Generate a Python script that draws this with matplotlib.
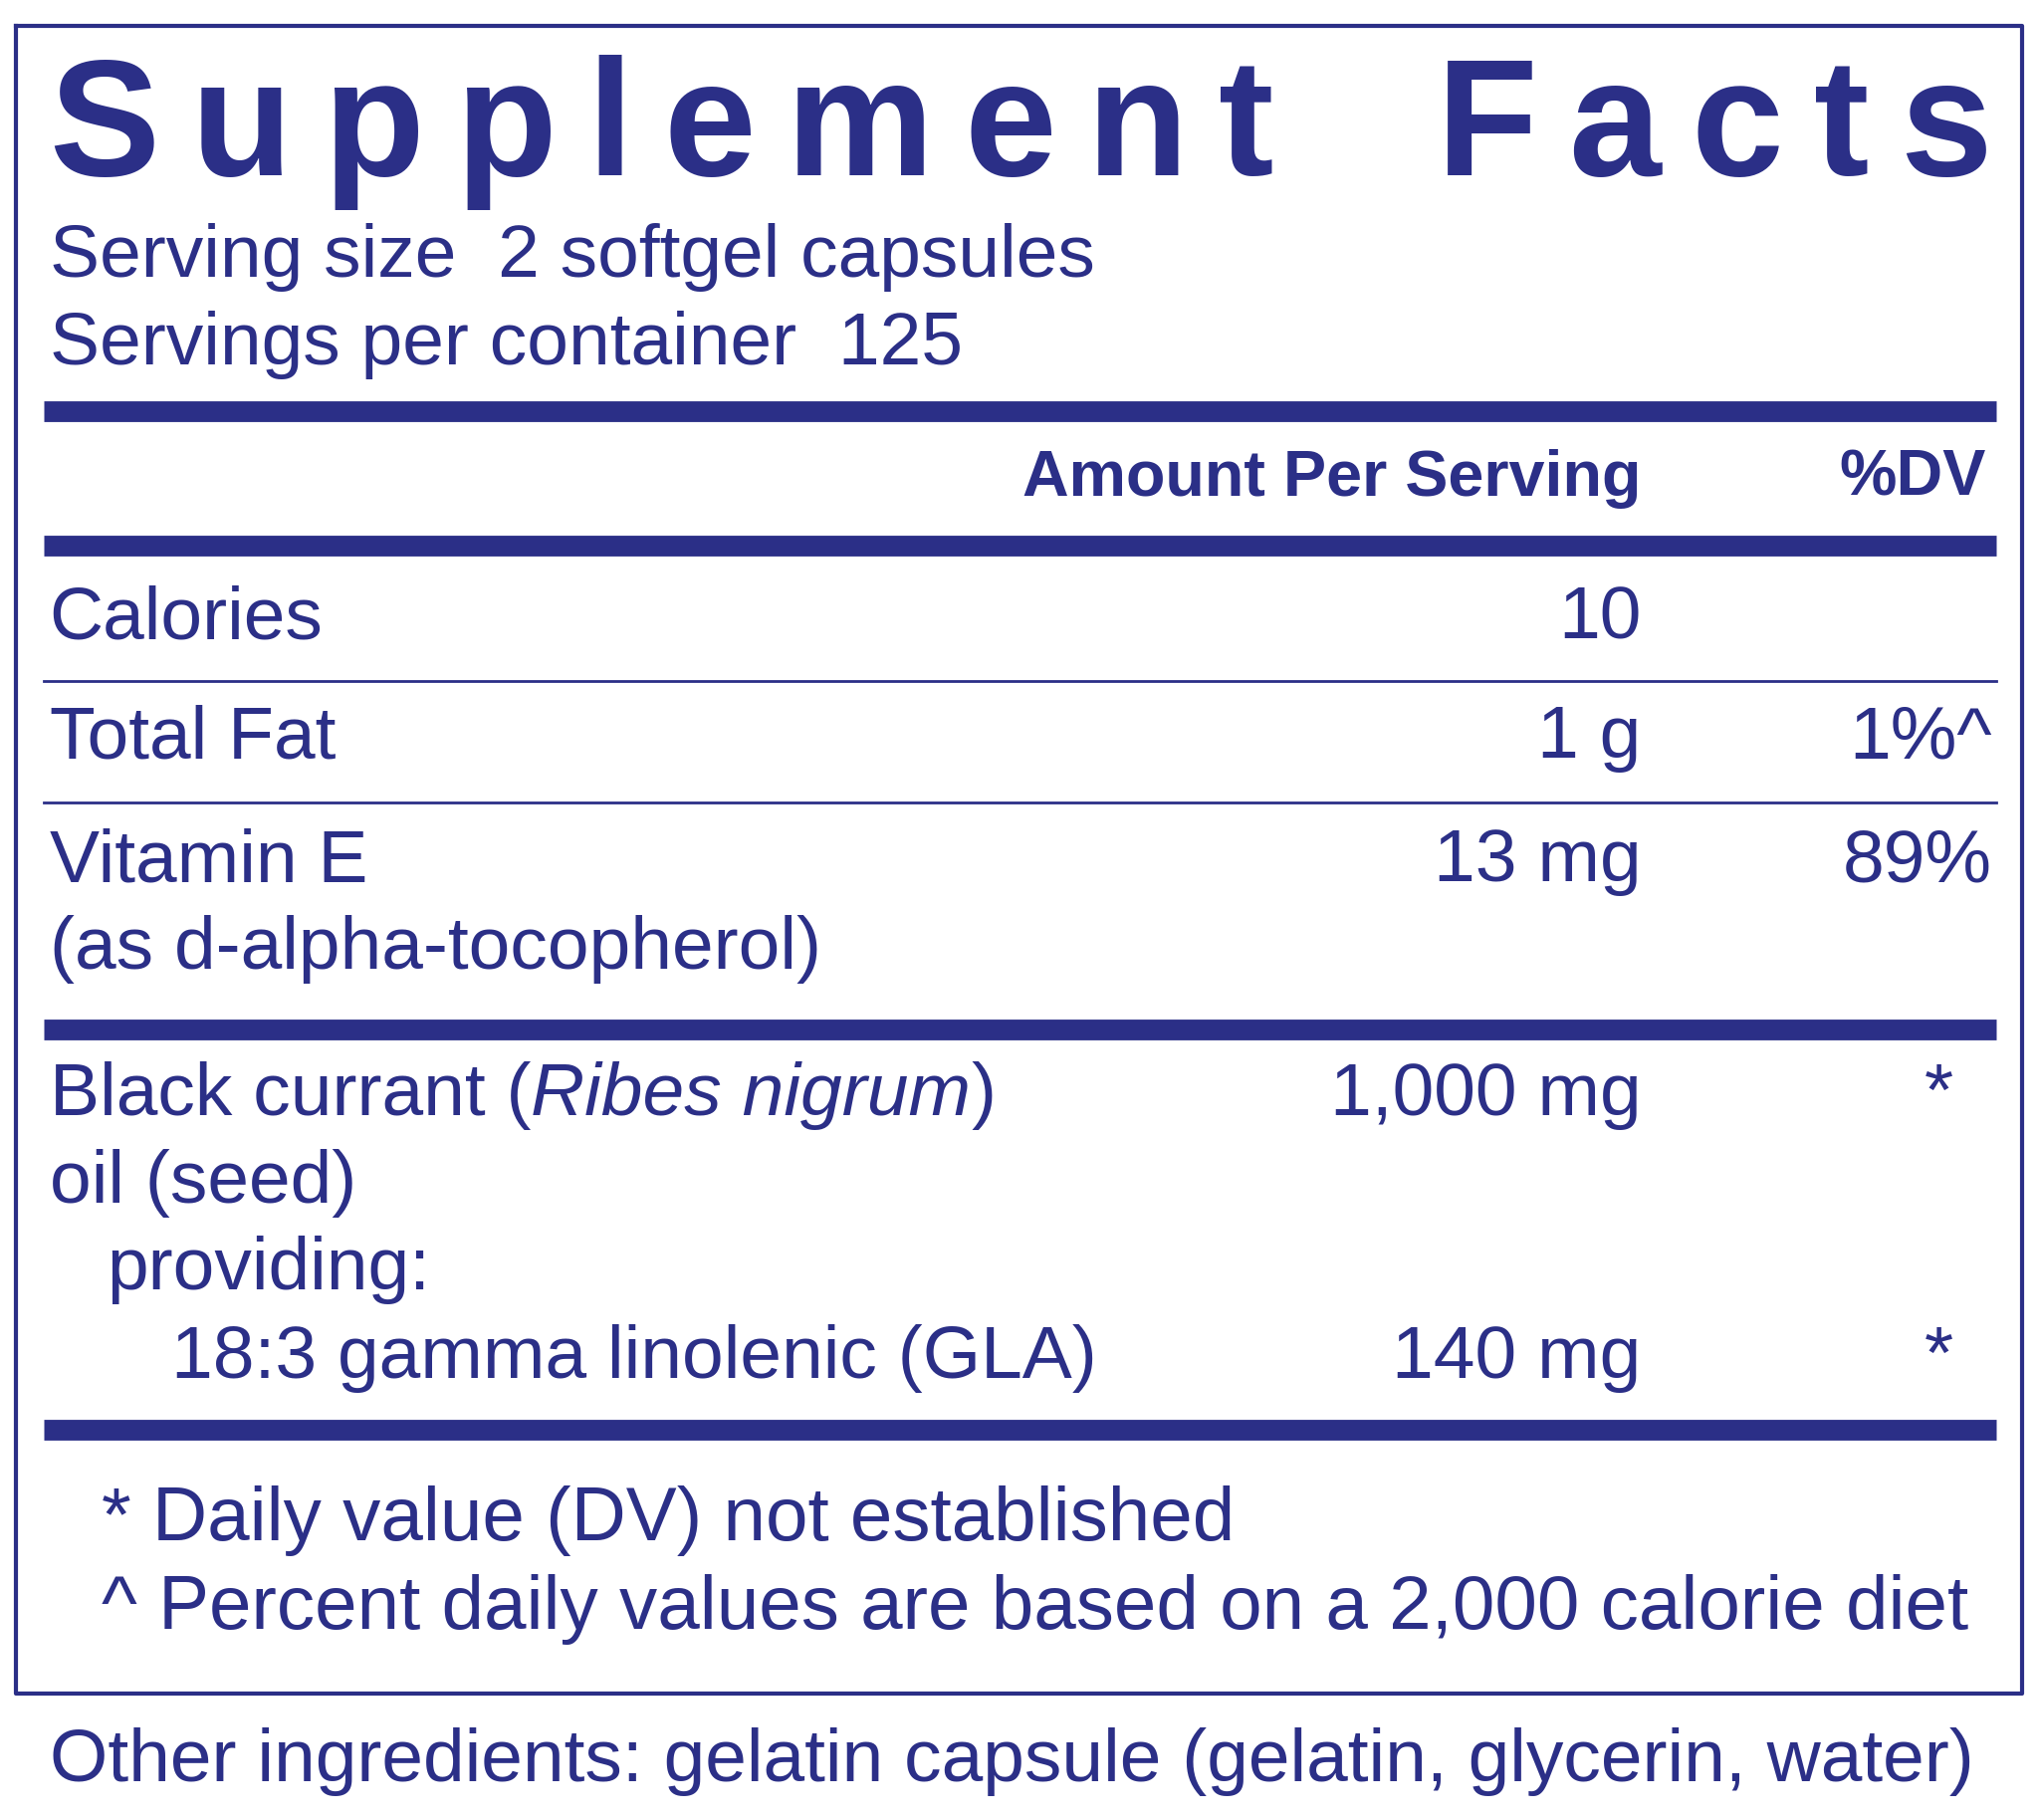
import matplotlib
matplotlib.use("Agg")
import matplotlib.pyplot as plt

NAVY = "#2b2f87"
FONT = "Liberation Sans"

title = "Supplement Facts"
serving_lines = ["Serving size  2 softgel capsules", "Servings per container  125"]
# (label, amount, dv, y)
rows = [
    ("Calories", "10", "", 476),
    ("Total Fat", "1 g", "1%^", 568),
    ("Vitamin E", "13 mg", "89%", 663),
    ("Black currant (", "1,000 mg", "*", 843),
    ("18:3 gamma linolenic (GLA)", "140 mg", "*", 1045),
]
extra_lines = [("(as d-alpha-tocopherol)", 38, 730), ("oil (seed)", 38, 910),
               ("providing:", 82, 977)]
footnotes = ["* Daily value (DV) not established",
             "^ Percent daily values are based on a 2,000 calorie diet"]
other = "Other ingredients: gelatin capsule (gelatin, glycerin, water)"

W, H = 1568, 1400
BODY = 54
fig = plt.figure(figsize=(20.48, 18.28), dpi=100)
ax = fig.add_axes([0, 0, 1, 1])
ax.set_xlim(0, W)
ax.set_ylim(H, 0)
ax.axis("off")

# border
ax.plot([12, 1555, 1555, 12, 12], [20, 20, 1303, 1303, 20], color=NAVY, lw=3)
# rules
for y, lw in [(316, 15), (420, 15), (792, 15), (1100, 15)]:
    ax.plot([34, 1535], [y, y], color=NAVY, lw=lw, solid_capstyle="butt")
for y in [524, 617]:
    ax.plot([34, 1535], [y, y], color=NAVY, lw=2)

# spaced title
fig.canvas.draw()
r = fig.canvas.get_renderer()
tsize = 120
widths = []
for ch in title:
    t = ax.text(0, 0, ch if ch != " " else "n", fontsize=tsize, weight="bold", family=FONT)
    bb = t.get_window_extent(r)
    widths.append(bb.width * W / fig.bbox.width)
    t.remove()
x0, x1 = 38, 1532
gap = (x1 - x0 - sum(widths)) / (len(title) - 1)
x = x0
for ch, w in zip(title, widths):
    if ch != " ":
        ax.text(x, 135, ch, fontsize=tsize, weight="bold", family=FONT, color=NAVY,
                va="baseline", ha="left")
    x += w + gap

kw = dict(family=FONT, color=NAVY, va="center")
ax.text(38, 198, serving_lines[0], fontsize=BODY, **kw)
ax.text(38, 265, serving_lines[1], fontsize=BODY, **kw)
ax.text(1262, 368, "Amount Per Serving", fontsize=46.5, weight="bold", ha="right", **kw)
ax.text(1527, 368, "%DV", fontsize=46.5, weight="bold", ha="right", **kw)

for label, amt, dv, y in rows:
    lx = 132 if label.startswith("18:3") else 38
    t = ax.text(lx, y, label, fontsize=BODY, ha="left", **kw)
    if label.endswith("("):
        fig.canvas.draw()
        bb = t.get_window_extent(r)
        xe = bb.x1 * W / fig.bbox.width
        t2 = ax.text(xe, y, "Ribes nigrum", fontsize=BODY, style="italic", ha="left", **kw)
        fig.canvas.draw()
        bb2 = t2.get_window_extent(r)
        ax.text(bb2.x1 * W / fig.bbox.width, y, ")", fontsize=BODY, ha="left", **kw)
    ax.text(1262, y, amt, fontsize=BODY, ha="right", **kw)
    if dv:
        dx = 1502 if dv == "*" else 1532
        ax.text(dx, y, dv, fontsize=BODY, ha="right", **kw)

for text, lx, y in extra_lines:
    ax.text(lx, y, text, fontsize=BODY, ha="left", **kw)

ax.text(78, 1170, footnotes[0], fontsize=55, ha="left", **kw)
ax.text(78, 1238, footnotes[1], fontsize=55, ha="left", **kw)
ax.text(38, 1355, other, fontsize=BODY, ha="left", **kw)

fig.savefig("out.png", dpi=100, facecolor="white")
